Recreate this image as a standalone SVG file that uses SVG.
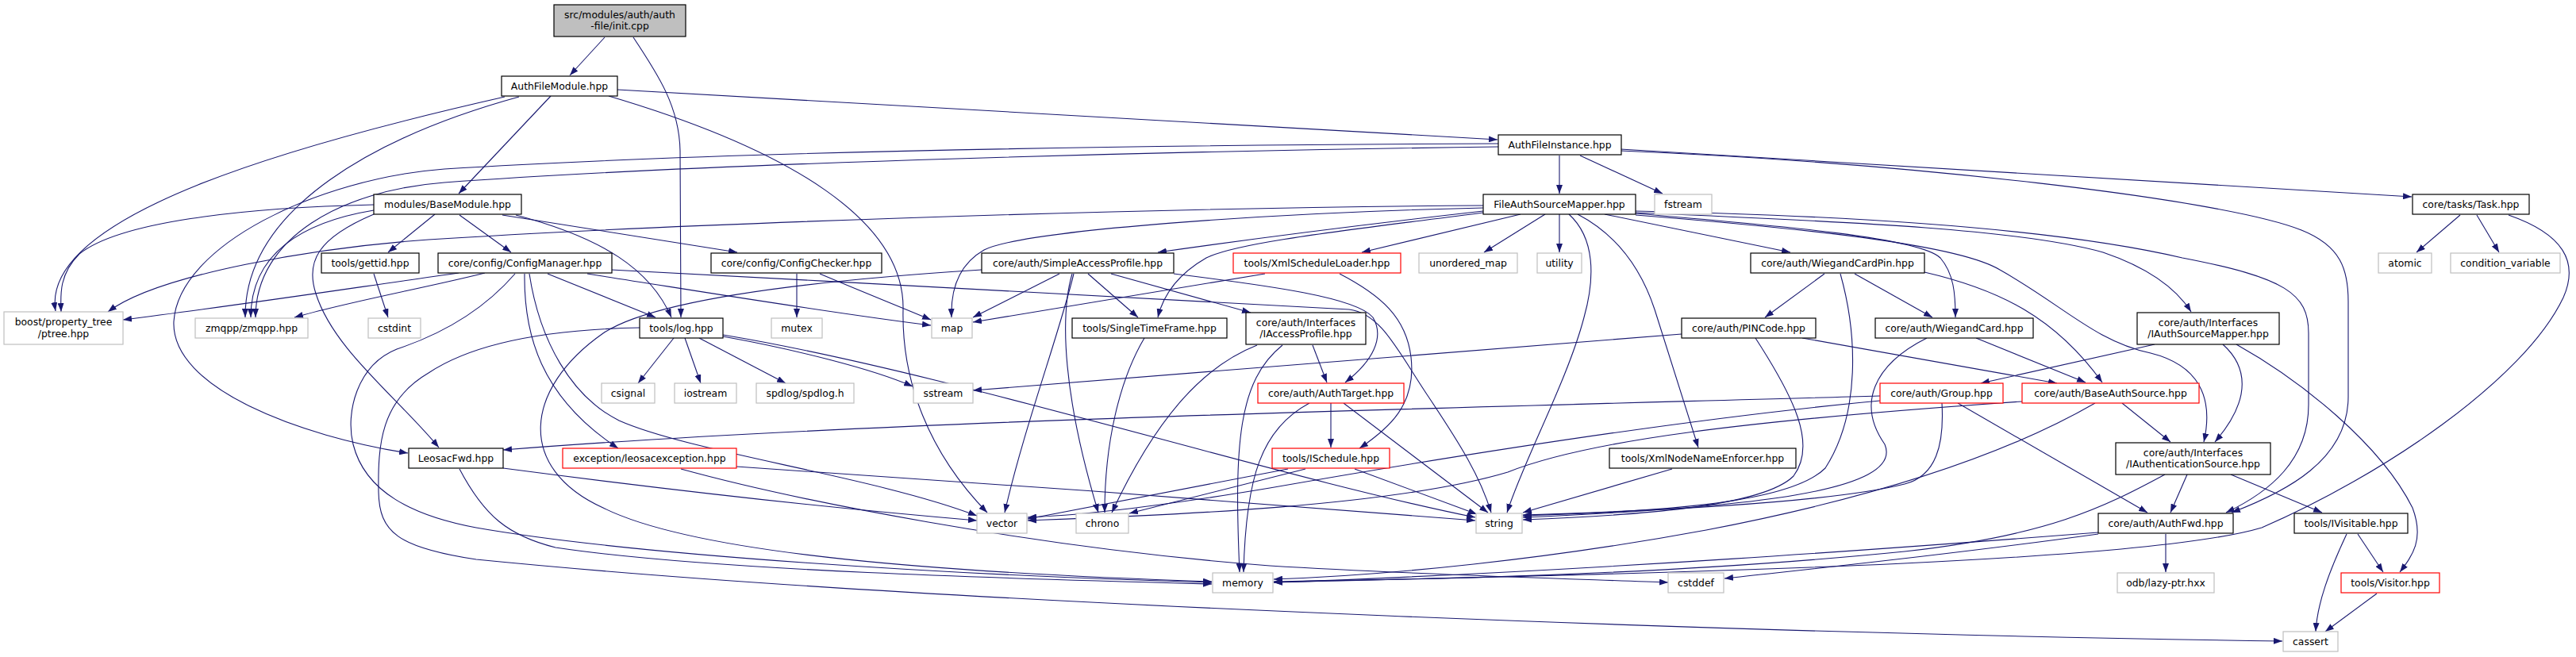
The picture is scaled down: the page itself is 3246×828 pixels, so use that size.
<svg xmlns="http://www.w3.org/2000/svg" width="3246" height="828" viewBox="0 0 3246 828">
<defs>
<marker id="ah" markerWidth="11" markerHeight="8" refX="11" refY="4" orient="auto" markerUnits="userSpaceOnUse"><path d="M0,0 L11,4 L0,8 z" fill="#191970"/></marker>
<style>
.e{fill:none;stroke:#191970;stroke-width:1.1;marker-end:url(#ah)}
.n rect{fill:#fff;stroke:#000;stroke-width:1.2}
.g rect{fill:#fff;stroke:#bfbfbf;stroke-width:1.2}
.r rect{fill:#fff;stroke:#ff0000;stroke-width:1.2}
.root rect{fill:#bfbfbf;stroke:#000;stroke-width:1.2}
text{font-family:"DejaVu Sans","Liberation Sans",sans-serif;font-size:12.4px;fill:#000;text-anchor:middle}
</style>
</defs>
<rect width="3246" height="828" fill="#fff"/>
<g id="edges">
<path class="e" d="M762,47 L718,95"/>
<path class="e" d="M798,47 C830,95 856,135 857,190 L858,400"/>
<path class="e" d="M694,121 L578,244"/>
<path class="e" d="M778,113 L1887,176"/>
<path class="e" d="M636,122 C380,180 50,270 70,392"/>
<path class="e" d="M654,122 C480,170 308,260 309,400"/>
<path class="e" d="M767,121 C1000,190 1140,280 1138,390 C1136,480 1170,570 1244,646"/>
<path class="e" d="M1965,196 L1965,244"/>
<path class="e" d="M1991,196 L2095,244"/>
<path class="e" d="M2042,188 L3039,248"/>
<path class="e" d="M1888,185 C1500,190 900,205 560,230 C430,240 322,300 322,400"/>
<path class="e" d="M1888,181 C1400,183 900,192 560,213 C400,225 225,310 219,405 C215,490 380,550 514,571"/>
<path class="e" d="M2042,190 C2400,205 2800,250 2900,290 C2950,310 2959,340 2959,380 L2959,500 C2959,580 2880,620 2812,646"/>
<path class="e" d="M3100,271 L3045,318"/>
<path class="e" d="M3121,271 L3149,318"/>
<path class="e" d="M3161,271 C3230,295 3250,330 3230,375 C3180,480 3000,600 2850,665 C2700,710 2100,722 1605,734"/>
<path class="e" d="M1869,259 C1400,262 800,285 540,302 C400,312 200,345 136,393"/>
<path class="e" d="M1869,262 C1600,268 1290,290 1240,315 C1205,335 1198,370 1199,400"/>
<path class="e" d="M1869,266 C1700,285 1550,305 1459,318"/>
<path class="e" d="M1869,268 C1700,290 1560,305 1520,325 C1480,348 1465,375 1459,400"/>
<path class="e" d="M1916,270 L1716,318"/>
<path class="e" d="M1947,270 L1870,318"/>
<path class="e" d="M1965,270 L1965,318"/>
<path class="e" d="M1977,270 C2010,300 2010,350 1996,400 C1975,480 1920,580 1899,646"/>
<path class="e" d="M1988,270 C2030,292 2065,330 2085,390 L2140,564"/>
<path class="e" d="M2022,270 L2256,318"/>
<path class="e" d="M2061,269 C2250,285 2420,300 2445,325 C2462,345 2464,370 2464,400"/>
<path class="e" d="M2061,271 C2300,290 2470,310 2520,340 C2600,385 2640,430 2710,445 C2770,460 2790,500 2777,557"/>
<path class="e" d="M2061,266 C2350,272 2600,290 2750,325 C2880,350 2909,370 2909,420 L2909,510 C2909,580 2860,620 2805,646"/>
<path class="e" d="M2061,268 C2350,280 2550,290 2650,318 C2700,335 2740,360 2761,393"/>
<path class="e" d="M1688,345 C1740,372 1772,400 1778,450 C1785,510 1750,540 1713,565"/>
<path class="e" d="M1594,345 L1226,406"/>
<path class="e" d="M1335,345 L1226,400"/>
<path class="e" d="M1371,345 L1434,400"/>
<path class="e" d="M1400,345 L1576,394"/>
<path class="e" d="M1353,345 C1335,420 1290,540 1266,646"/>
<path class="e" d="M1351,345 C1335,400 1340,500 1384,646"/>
<path class="e" d="M1237,340 C1000,355 820,380 760,420 C660,490 650,590 760,640 C880,700 1200,722 1527,733"/>
<path class="e" d="M1479,345 C1600,360 1710,375 1730,400 C1745,425 1730,455 1695,482"/>
<path class="e" d="M770,340 C1100,357 1500,380 1700,390 C1740,395 1760,440 1800,500 C1840,560 1865,600 1879,646"/>
<path class="e" d="M740,345 C900,370 1050,395 1173,410"/>
<path class="e" d="M578,344 C450,362 300,385 155,403"/>
<path class="e" d="M611,344 C540,362 440,380 371,400"/>
<path class="e" d="M649,345 C610,390 560,420 500,440 C450,460 435,520 445,560 C460,620 520,650 600,665 C800,700 1200,725 1527,734"/>
<path class="e" d="M471,270 C400,300 385,330 398,370 C420,440 500,500 553,564"/>
<path class="e" d="M471,258 C300,262 150,280 100,320 C75,345 76,370 77,393"/>
<path class="e" d="M471,265 C380,280 316,320 316,400"/>
<path class="e" d="M548,270 L489,318"/>
<path class="e" d="M579,271 L644,318"/>
<path class="e" d="M633,271 L929,318"/>
<path class="e" d="M650,271 C760,300 820,340 846,400"/>
<path class="e" d="M1004,345 L1004,400"/>
<path class="e" d="M1033,345 C1080,365 1130,385 1173,403"/>
<path class="e" d="M690,345 L826,400"/>
<path class="e" d="M661,345 C660,420 680,500 779,565"/>
<path class="e" d="M667,345 C680,430 720,500 780,530 C870,570 1100,600 1231,650"/>
<path class="e" d="M928,588 C1200,605 1600,635 1859,656"/>
<path class="e" d="M858,591 C1000,630 1300,690 1600,713 C1800,725 2000,730 2102,734"/>
<path class="e" d="M634,590 C900,625 1100,645 1231,656"/>
<path class="e" d="M579,591 C610,650 640,675 700,690 C900,720 1300,730 1527,736"/>
<path class="e" d="M849,426 L804,483"/>
<path class="e" d="M863,426 L883,483"/>
<path class="e" d="M881,426 L990,483"/>
<path class="e" d="M911,424 C1000,440 1100,465 1150,487"/>
<path class="e" d="M911,422 C1200,470 1600,600 1859,652"/>
<path class="e" d="M806,413 C700,415 600,430 540,470 C480,505 476,560 477,620 C478,670 500,690 600,705 C1200,765 2300,800 2876,808"/>
<path class="e" d="M1442,426 C1410,480 1392,560 1392,646"/>
<path class="e" d="M1654,435 L1672,482"/>
<path class="e" d="M1584,435 C1520,460 1460,520 1401,646"/>
<path class="e" d="M1616,435 C1560,480 1555,560 1562,721"/>
<path class="e" d="M1650,508 C1590,540 1570,600 1567,721"/>
<path class="e" d="M1677,508 L1677,564"/>
<path class="e" d="M1693,508 L1875,646"/>
<path class="e" d="M1623,591 L1295,654"/>
<path class="e" d="M1645,591 L1423,647"/>
<path class="e" d="M1707,591 L1861,648"/>
<path class="e" d="M2107,591 L1919,646"/>
<path class="e" d="M2119,421 C1800,445 1500,470 1226,492"/>
<path class="e" d="M2271,426 L2592,483"/>
<path class="e" d="M2212,426 C2260,500 2290,560 2260,600 C2220,640 2050,650 1919,655"/>
<path class="e" d="M2299,345 L2224,400"/>
<path class="e" d="M2337,345 L2435,400"/>
<path class="e" d="M2319,345 C2340,420 2345,520 2300,590 C2250,640 2050,645 1919,650"/>
<path class="e" d="M2425,343 C2520,365 2590,400 2649,482"/>
<path class="e" d="M2490,426 L2628,482"/>
<path class="e" d="M2428,426 C2360,460 2340,510 2375,560 C2400,620 2200,640 1919,652"/>
<path class="e" d="M2715,434 L2496,483"/>
<path class="e" d="M2801,434 C2830,460 2840,500 2791,557"/>
<path class="e" d="M2818,434 C2900,480 3000,560 3040,640 C3055,680 3040,700 3024,721"/>
<path class="e" d="M2369,499 C1800,515 1100,530 634,567"/>
<path class="e" d="M2369,505 C2100,530 1800,580 1600,615 C1450,640 1350,650 1295,652"/>
<path class="e" d="M2548,506 C2200,530 2000,555 1900,595 C1750,640 1450,650 1295,656"/>
<path class="e" d="M2447,508 C2450,560 2440,600 2400,610 C2300,635 2050,645 1919,649"/>
<path class="e" d="M2467,508 L2706,646"/>
<path class="e" d="M2640,508 C2550,560 2400,620 2150,668 C1950,705 1750,725 1605,730"/>
<path class="e" d="M2674,508 L2735,557"/>
<path class="e" d="M2756,598 L2735,646"/>
<path class="e" d="M2811,598 L2926,646"/>
<path class="e" d="M2728,598 C2650,640 2580,675 2400,695 C2100,725 1800,730 1605,733"/>
<path class="e" d="M2729,673 L2729,721"/>
<path class="e" d="M2644,671 C2400,690 2000,720 1605,734"/>
<path class="e" d="M2644,673 C2450,700 2300,715 2173,729"/>
<path class="e" d="M2971,673 L3003,721"/>
<path class="e" d="M2957,673 C2935,720 2920,760 2918,796"/>
<path class="e" d="M2995,748 L2930,796"/>
<path class="e" d="M471,345 L489,400"/>
</g>
<g id="n-root" class="root"><rect x="698" y="6" width="166" height="40"/><text x="781" y="22.5">src/modules/auth/auth</text><text x="781" y="37">-file/init.cpp</text></g>
<g id="n-afm" class="n"><rect x="632" y="96" width="146" height="25"/><text x="705" y="112.5">AuthFileModule.hpp</text></g>
<g id="n-bm" class="n"><rect x="471" y="245" width="186" height="25"/><text x="564" y="261.5">modules/BaseModule.hpp</text></g>
<g id="n-afi" class="n"><rect x="1888" y="170" width="155" height="25"/><text x="1965.5" y="186.5">AuthFileInstance.hpp</text></g>
<g id="n-fasm" class="n"><rect x="1869" y="245" width="192" height="25"/><text x="1965" y="261.5">FileAuthSourceMapper.hpp</text></g>
<g id="n-fstream" class="g"><rect x="2085" y="245" width="72" height="25"/><text x="2121" y="261.5">fstream</text></g>
<g id="n-task" class="n"><rect x="3040" y="245" width="147" height="25"/><text x="3113.5" y="261.5">core/tasks/Task.hpp</text></g>
<g id="n-atomic" class="g"><rect x="2997" y="319" width="67" height="25"/><text x="3030.5" y="335.5">atomic</text></g>
<g id="n-cv" class="g"><rect x="3088" y="319" width="138" height="25"/><text x="3157" y="335.5">condition_variable</text></g>
<g id="n-gettid" class="n"><rect x="405" y="319" width="123" height="25"/><text x="466.5" y="335.5">tools/gettid.hpp</text></g>
<g id="n-cm" class="n"><rect x="552" y="319" width="219" height="25"/><text x="661.5" y="335.5">core/config/ConfigManager.hpp</text></g>
<g id="n-cc" class="n"><rect x="896" y="319" width="215" height="25"/><text x="1003.5" y="335.5">core/config/ConfigChecker.hpp</text></g>
<g id="n-sap" class="n"><rect x="1237" y="319" width="242" height="25"/><text x="1358" y="335.5">core/auth/SimpleAccessProfile.hpp</text></g>
<g id="n-xsl" class="r"><rect x="1554" y="319" width="211" height="25"/><text x="1659.5" y="335.5">tools/XmlScheduleLoader.hpp</text></g>
<g id="n-umap" class="g"><rect x="1788" y="319" width="124" height="25"/><text x="1850" y="335.5">unordered_map</text></g>
<g id="n-utility" class="g"><rect x="1937" y="319" width="56" height="25"/><text x="1965" y="335.5">utility</text></g>
<g id="n-wcp" class="n"><rect x="2206" y="319" width="219" height="25"/><text x="2315.5" y="335.5">core/auth/WiegandCardPin.hpp</text></g>
<g id="n-iasm" class="n"><rect x="2693" y="394" width="179" height="40"/><text x="2782.5" y="410.5">core/auth/Interfaces</text><text x="2782.5" y="425">/IAuthSourceMapper.hpp</text></g>
<g id="n-ptree" class="g"><rect x="5" y="393" width="150" height="41"/><text x="80" y="410">boost/property_tree</text><text x="80" y="424.5">/ptree.hpp</text></g>
<g id="n-zmqpp" class="g"><rect x="246" y="401" width="142" height="25"/><text x="317" y="417.5">zmqpp/zmqpp.hpp</text></g>
<g id="n-cstdint" class="g"><rect x="464" y="401" width="66" height="25"/><text x="497" y="417.5">cstdint</text></g>
<g id="n-log" class="n"><rect x="806" y="401" width="105" height="25"/><text x="858.5" y="417.5">tools/log.hpp</text></g>
<g id="n-mutex" class="g"><rect x="972" y="401" width="64" height="25"/><text x="1004" y="417.5">mutex</text></g>
<g id="n-map" class="g"><rect x="1174" y="401" width="51" height="25"/><text x="1199.5" y="417.5">map</text></g>
<g id="n-stf" class="n"><rect x="1351" y="401" width="195" height="25"/><text x="1448.5" y="417.5">tools/SingleTimeFrame.hpp</text></g>
<g id="n-iap" class="n"><rect x="1570" y="394" width="151" height="40"/><text x="1645.5" y="410.5">core/auth/Interfaces</text><text x="1645.5" y="425">/IAccessProfile.hpp</text></g>
<g id="n-pincode" class="n"><rect x="2119" y="401" width="169" height="25"/><text x="2203.5" y="417.5">core/auth/PINCode.hpp</text></g>
<g id="n-wc" class="n"><rect x="2363" y="401" width="199" height="25"/><text x="2462.5" y="417.5">core/auth/WiegandCard.hpp</text></g>
<g id="n-group" class="r"><rect x="2369" y="483" width="155" height="25"/><text x="2446.5" y="499.5">core/auth/Group.hpp</text></g>
<g id="n-bas" class="r"><rect x="2548" y="483" width="223" height="25"/><text x="2659.5" y="499.5">core/auth/BaseAuthSource.hpp</text></g>
<g id="n-iauthsrc" class="n"><rect x="2666" y="558" width="195" height="40"/><text x="2763.5" y="574.5">core/auth/Interfaces</text><text x="2763.5" y="589">/IAuthenticationSource.hpp</text></g>
<g id="n-sstream" class="g"><rect x="1151" y="483" width="75" height="25"/><text x="1188.5" y="499.5">sstream</text></g>
<g id="n-csignal" class="g"><rect x="758" y="483" width="67" height="25"/><text x="791.5" y="499.5">csignal</text></g>
<g id="n-iostream" class="g"><rect x="850" y="483" width="78" height="25"/><text x="889" y="499.5">iostream</text></g>
<g id="n-spdlog" class="g"><rect x="953" y="483" width="123" height="25"/><text x="1014.5" y="499.5">spdlog/spdlog.h</text></g>
<g id="n-authtarget" class="r"><rect x="1585" y="483" width="184" height="25"/><text x="1677" y="499.5">core/auth/AuthTarget.hpp</text></g>
<g id="n-ischedule" class="r"><rect x="1603" y="565" width="148" height="25"/><text x="1677" y="581.5">tools/ISchedule.hpp</text></g>
<g id="n-xnne" class="n"><rect x="2028" y="565" width="235" height="25"/><text x="2145.5" y="581.5">tools/XmlNodeNameEnforcer.hpp</text></g>
<g id="n-leosacfwd" class="n"><rect x="515" y="565" width="119" height="25"/><text x="574.5" y="581.5">LeosacFwd.hpp</text></g>
<g id="n-leosacexc" class="r"><rect x="709" y="565" width="219" height="25"/><text x="818.5" y="581.5">exception/leosacexception.hpp</text></g>
<g id="n-vector" class="g"><rect x="1231" y="647" width="63" height="25"/><text x="1262.5" y="663.5">vector</text></g>
<g id="n-chrono" class="g"><rect x="1356" y="647" width="66" height="25"/><text x="1389" y="663.5">chrono</text></g>
<g id="n-string" class="g"><rect x="1860" y="647" width="58" height="25"/><text x="1889" y="663.5">string</text></g>
<g id="n-authfwd" class="n"><rect x="2644" y="647" width="170" height="25"/><text x="2729" y="663.5">core/auth/AuthFwd.hpp</text></g>
<g id="n-ivisitable" class="n"><rect x="2891" y="647" width="143" height="25"/><text x="2962.5" y="663.5">tools/IVisitable.hpp</text></g>
<g id="n-memory" class="g"><rect x="1528" y="722" width="76" height="25"/><text x="1566" y="738.5">memory</text></g>
<g id="n-cstddef" class="g"><rect x="2102" y="722" width="70" height="25"/><text x="2137" y="738.5">cstddef</text></g>
<g id="n-lazyptr" class="g"><rect x="2668" y="722" width="122" height="25"/><text x="2729" y="738.5">odb/lazy-ptr.hxx</text></g>
<g id="n-visitor" class="r"><rect x="2950" y="722" width="124" height="25"/><text x="3012" y="738.5">tools/Visitor.hpp</text></g>
<g id="n-cassert" class="g"><rect x="2877" y="796" width="69" height="25"/><text x="2911.5" y="812.5">cassert</text></g>
</svg>
